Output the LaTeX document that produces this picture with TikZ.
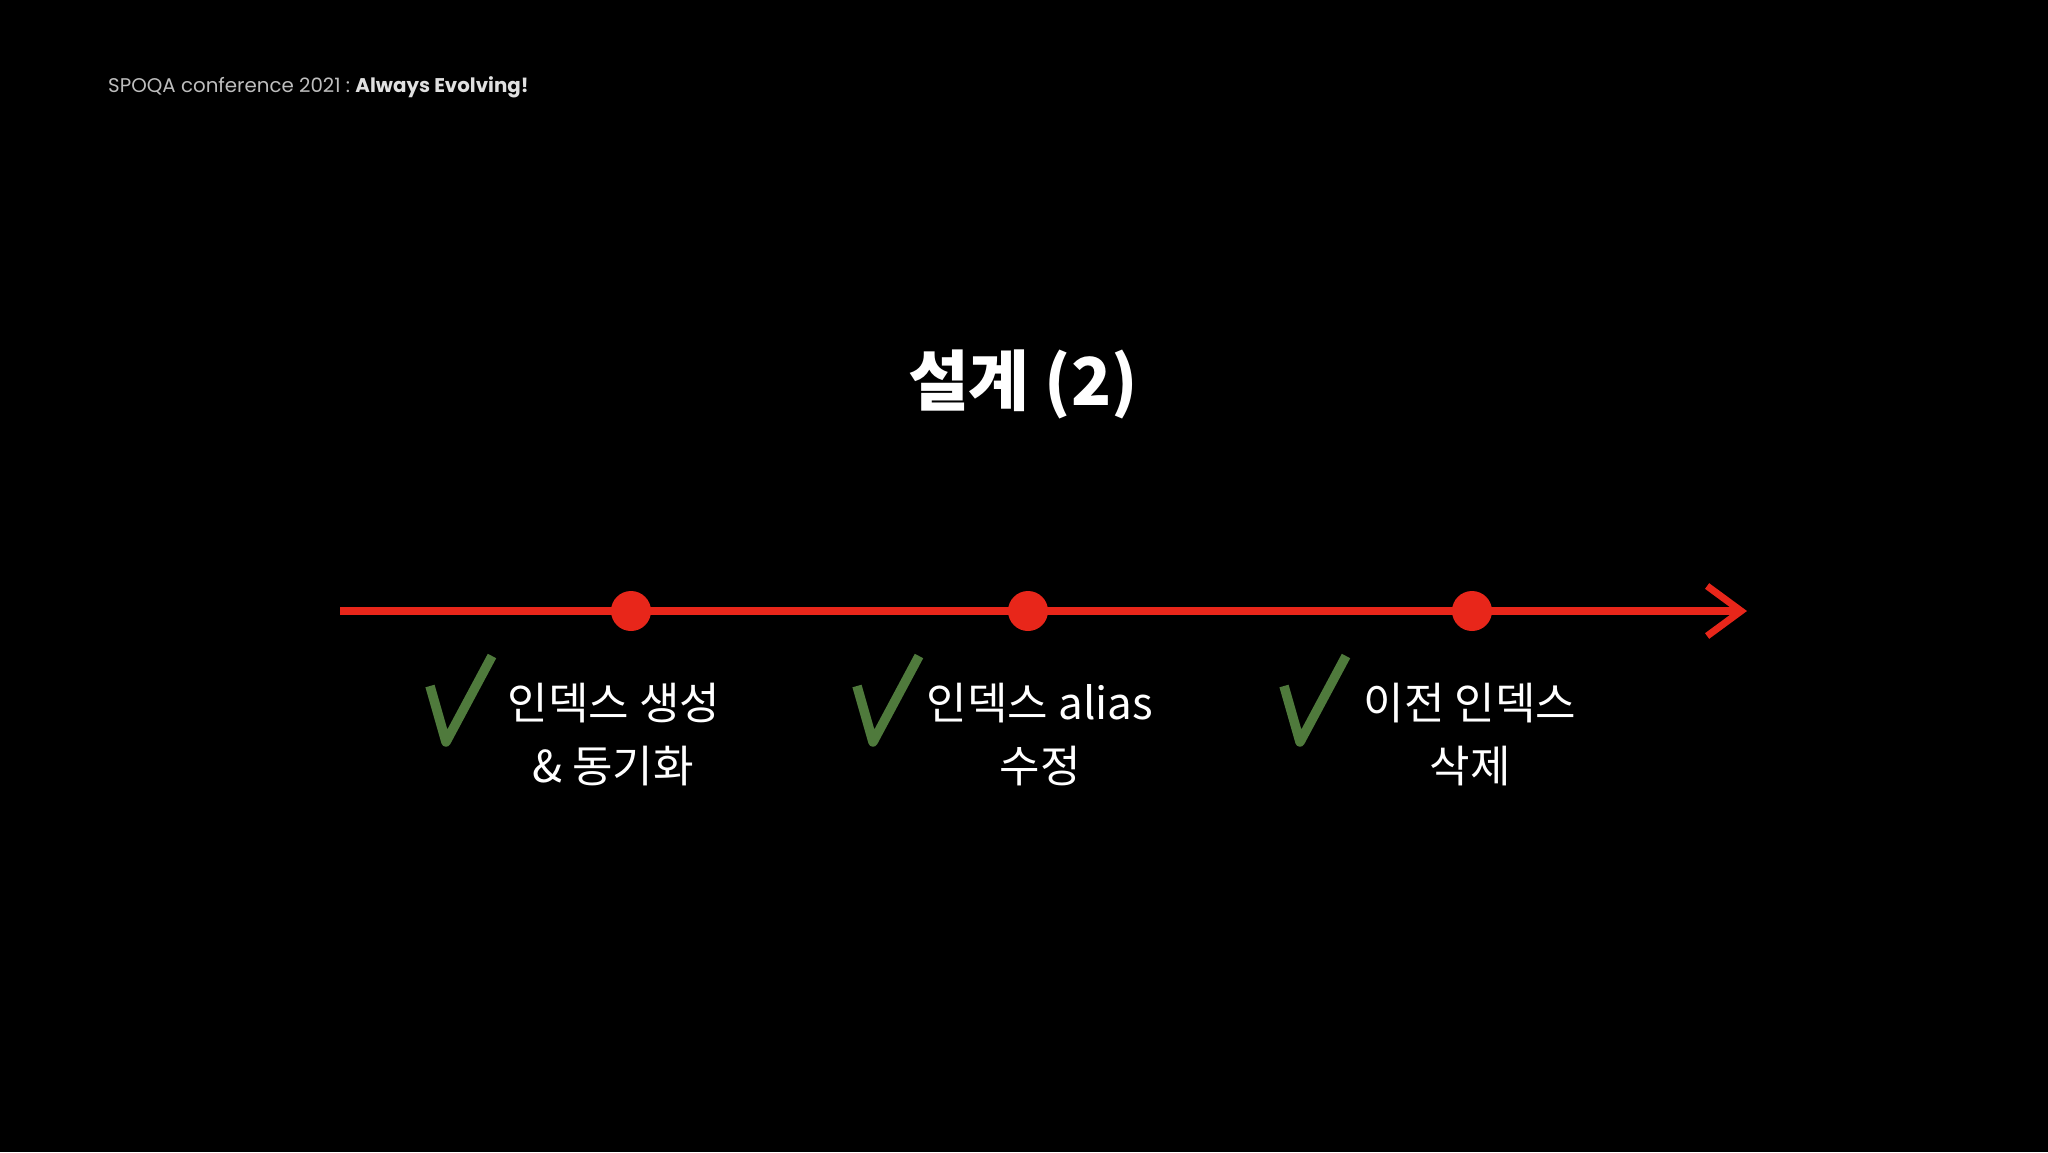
\documentclass[tikz,border=0pt]{standalone}
\usepackage{fontspec}
\usetikzlibrary{arrows.meta}
\newfontfamily\kr{Noto Sans CJK KR}
\newfontfamily\hdr{Poppins}
\definecolor{chalkred}{HTML}{E8261A}
\definecolor{chkgreen}{HTML}{4F7A3C}
\definecolor{hdrgray}{HTML}{BEBEBE}
\begin{document}
\begin{tikzpicture}[x=1pt,y=-1pt,
  dotnode/.style={circle,fill=chalkred,inner sep=0pt,minimum size=40pt},
  label1/.style={text=white,font=\kr\fontsize{44}{44}\selectfont,anchor=base,inner sep=0pt},
  checkmark/.style={draw=chkgreen,line width=9.5pt,line join=round,line cap=butt},
  timeline/.style={draw=chalkred,line width=8pt,-{Straight Barb[length=34pt,width=50pt,line width=7pt]}}]
\fill[black] (0,0) rectangle (2048,1152);
\useasboundingbox (0,0) rectangle (2048,1152);
% header
\node[anchor=base west,inner sep=0pt,text=hdrgray,font=\hdr\fontsize{19.8}{19.8}\selectfont] (hdr) at (108,92)
  {SPOQA conference 2021 :\ {\color{white!88!black}\bfseries Always Evolving!}};
% title
\node[anchor=base,inner sep=0pt,text=white,font=\kr\bfseries\fontsize{66}{66}\selectfont] (title) at (1023,405) {설계 (2)};
% timeline
\coordinate (start) at (340,611);
\coordinate (end) at (1747,611);
\node[dotnode] (d1) at (631,611) {};
\node[dotnode] (d2) at (1028,611) {};
\node[dotnode] (d3) at (1472,611) {};
\draw[timeline] (start) -- (end);
% checkmarks
\draw[checkmark] (430,686) -- (446,742) -- (492,656);
\draw[checkmark] (857,686) -- (873,742) -- (919,656);
\draw[checkmark] (1284,686) -- (1300,742) -- (1346,656);
% labels
\node[label1] (t1a) at (614,719) {인덱스 생성};
\node[label1] (t1b) at (613,782) {\& 동기화};
\node[label1] (t2a) at (1040,719) {인덱스 alias};
\node[label1] (t2b) at (1040,782) {수정};
\node[label1] (t3a) at (1470,719) {이전 인덱스};
\node[label1] (t3b) at (1470,782) {삭제};
\end{tikzpicture}
\end{document}
